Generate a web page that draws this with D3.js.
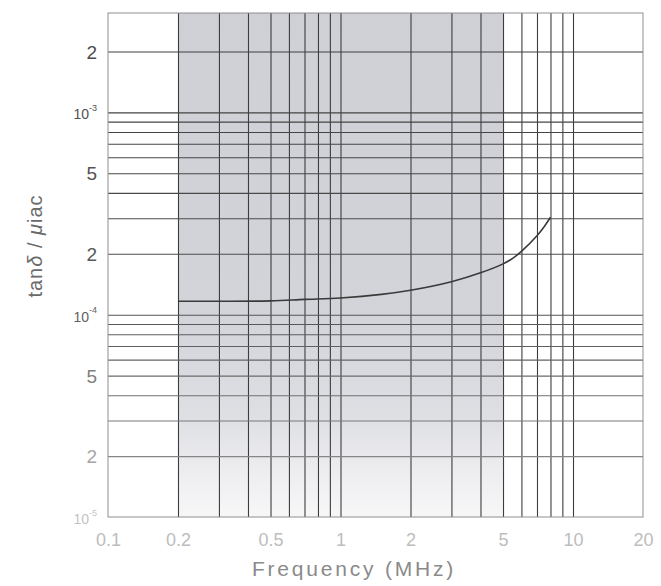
<!DOCTYPE html>
<html>
<head>
<meta charset="utf-8">
<script src="https://cdn.jsdelivr.net/npm/d3@7"></script>
<style>
html,body{margin:0;padding:0;background:#fff;}
svg{display:block;font-family:"Liberation Sans",Arial,sans-serif;}
</style>
</head>
<body>
<svg id="chart" width="661" height="586"></svg>
<script>
// ---- data ----
const freq = [0.2, 0.3, 0.5, 0.7, 1, 1.5, 2, 3, 4, 5, 5.5, 6, 7, 7.5, 8];
const tanDelta = [1.165e-4, 1.165e-4, 1.17e-4, 1.19e-4, 1.21e-4, 1.26e-4, 1.32e-4, 1.455e-4, 1.61e-4, 1.783e-4, 1.90e-4, 2.055e-4, 2.455e-4, 2.713e-4, 3.03e-4];
const xDomain = [0.1, 20];
const yDomain = [1e-5, 3.1e-3];
const bandRange = [0.2, 5];
const xGrid = [0.2,0.3,0.4,0.5,0.6,0.7,0.8,0.9,1,2,3,4,5,6,7,8,9,10];
const yGrid = [2e-5,3e-5,4e-5,5e-5,6e-5,7e-5,8e-5,9e-5,1e-4,2e-4,3e-4,4e-4,5e-4,6e-4,7e-4,8e-4,9e-4,1e-3,2e-3];
const xTicks = [0.1, 0.2, 0.5, 1, 2, 5, 10, 20];
const xTickText = ["0.1", "0.2", "0.5", "1", "2", "5", "10", "20"];
const yTicks = [2e-3, 1e-3, 5e-4, 2e-4, 1e-4, 5e-5, 2e-5, 1e-5];
const yTickMant = ["2", "10", "5", "2", "10", "5", "2", "10"];
const yTickExp = ["", "-3", "", "", "-4", "", "", "-5"];
const xTitle = "Frequency (MHz)";

// ---- layout ----
const L = 108, R = 643, T = 13, B = 517;
const svg = d3.select("#chart");
const x = d3.scaleLog().domain(xDomain).range([L, R]);
const y = d3.scaleLog().domain(yDomain).range([B, T]);

const defs = svg.append("defs");
const bandGrad = defs.append("linearGradient").attr("id", "band")
  .attr("x1", 0).attr("y1", 0).attr("x2", 0).attr("y2", 1);
[[0, "#cfd0d6"], [0.6, "#d3d4da"], [0.8, "#dedfe3"], [0.9, "#ececef"], [1, "#f7f7f8"]]
  .forEach(([o, c]) => bandGrad.append("stop").attr("offset", o).attr("stop-color", c));
const vGrad = defs.append("linearGradient").attr("id", "vline")
  .attr("gradientUnits", "userSpaceOnUse").attr("x1", 0).attr("y1", T).attr("x2", 0).attr("y2", B);
[[0, "#3c3c3c"], [0.6, "#555"], [0.85, "#8a8a8a"], [1, "#a8a8a8"]]
  .forEach(([o, c]) => vGrad.append("stop").attr("offset", o).attr("stop-color", c));

const shade = d3.scaleLinear().domain([T, 300, B]).range(["#3c3c3c", "#505050", "#9a9a9a"]);

// shaded band
svg.append("rect")
  .attr("x", x(bandRange[0])).attr("y", T)
  .attr("width", x(bandRange[1]) - x(bandRange[0])).attr("height", B - T)
  .attr("fill", "url(#band)");

// vertical grid via axis
const gx = svg.append("g").attr("transform", `translate(0,${B})`)
  .call(d3.axisBottom(x).tickValues(xGrid).tickSize(-(B - T)).tickFormat(""));
gx.select(".domain").remove();
gx.selectAll(".tick line").attr("stroke", "url(#vline)").attr("stroke-width", 1.1);

// horizontal grid via axis
const gy = svg.append("g").attr("transform", `translate(${L},0)`)
  .call(d3.axisLeft(y).tickValues(yGrid).tickSize(-(R - L)).tickFormat(""));
gy.select(".domain").remove();
gy.selectAll(".tick line").attr("stroke", d => shade(y(d))).attr("stroke-width", 1.1);

// frame
svg.append("rect").attr("x", L).attr("y", T).attr("width", R - L).attr("height", B - T)
  .attr("fill", "none").attr("stroke", "#8f8f8f").attr("stroke-width", 1);

// curve
svg.append("path")
  .datum(freq.map((f, i) => [f, tanDelta[i]]))
  .attr("fill", "none").attr("stroke", "#3a3a3a").attr("stroke-width", 1.6)
  .attr("d", d3.line().x(d => x(d[0])).y(d => y(d[1])).curve(d3.curveCatmullRom.alpha(0.5)));

// x tick labels
const xl = svg.append("g").attr("transform", `translate(0,${B + 10})`)
  .call(d3.axisBottom(x).tickValues(xTicks).tickSize(0)
    .tickFormat((d, i) => xTickText[i]));
xl.select(".domain").remove();
xl.selectAll("text").attr("font-size", 18).attr("fill", "#bdbdbd")
  .attr("font-family", "Liberation Sans, Arial, sans-serif").attr("dy", "0.9em");

// y tick labels
const yl = svg.append("g").attr("transform", `translate(${L - 8},0)`)
  .call(d3.axisLeft(y).tickValues(yTicks).tickSize(0).tickFormat(""));
yl.select(".domain").remove();
const ylColor = d3.scaleLinear().domain([T, 300, B]).range(["#4a4a4a", "#5a5a5a", "#c4c4c4"]);
yl.selectAll(".tick").each(function(d, i) {
  const t = d3.select(this).select("text")
    .attr("font-family", "Liberation Sans, Arial, sans-serif")
    .attr("fill", ylColor(y(d)))
    .attr("dy", "0.35em");
  if (yTickExp[i]) {
    t.attr("font-size", 14).attr("dy", "0.45em");
    t.append("tspan").text(yTickMant[i]);
    t.append("tspan").attr("font-size", 9).attr("dy", "-0.9em").text(yTickExp[i]);
  } else {
    t.attr("font-size", 19).text(yTickMant[i]);
  }
});

// axis titles
svg.append("text")
  .attr("x", 354).attr("y", 576)
  .attr("text-anchor", "middle").attr("font-size", 21).attr("letter-spacing", 2.8)
  .attr("fill", "#8a8a8a").text(xTitle);

const yt = svg.append("text")
  .attr("transform", `translate(42,${246}) rotate(-90)`)
  .attr("text-anchor", "middle").attr("font-size", 20).attr("letter-spacing", 1)
  .attr("fill", "#6a6a6a").attr("xml:space", "preserve");
yt.append("tspan").text("tan");
yt.append("tspan").attr("font-style", "italic").text("δ");
yt.append("tspan").text(" / ");
yt.append("tspan").attr("font-style", "italic").text("μ");
yt.append("tspan").text("iac");
</script>
</body>
</html>
